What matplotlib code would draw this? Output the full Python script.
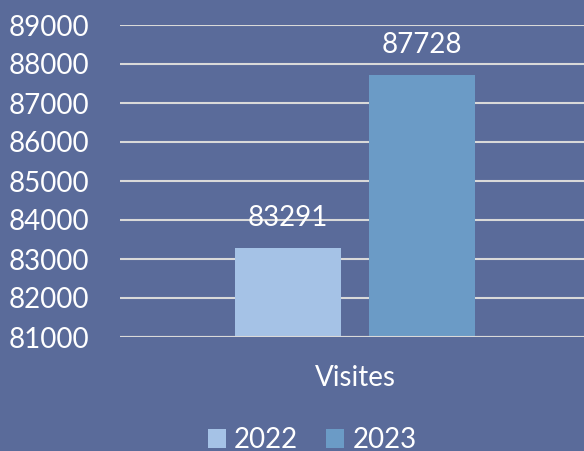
#!/usr/bin/env python3
"""Bar chart of visits, 2022 vs 2023."""

import matplotlib
matplotlib.use("Agg")
import matplotlib.pyplot as plt
from matplotlib.patches import Patch

category = "Visites"
years = ["2022", "2023"]
visits = [83291, 87728]
y_ticks = [81000, 82000, 83000, 84000, 85000, 86000, 87000, 88000, 89000]

bg = "#5A6B9A"
bar_colors = ["#A5C2E6", "#6B9BC6"]
grid_color = "#D9D9D9"

plt.rcParams["font.family"] = ["Lato", "DejaVu Sans"]

fig = plt.figure(figsize=(5.84, 4.51), dpi=100, facecolor=bg)
ax = fig.add_axes([120 / 584, 1 - 337 / 451, 470 / 584, (337 - 25) / 451])
ax.set_facecolor(bg)

width = 0.451
offset = 0.285
positions = [-offset, offset]
bars = ax.bar(positions, visits, width=width, color=bar_colors, zorder=3)
for x, v in zip(positions, visits):
    ax.annotate(f"{v}", (x, v), xytext=(0, 12), textcoords="offset points",
                ha="center", va="bottom", color="white", fontsize=20, zorder=4)

ax.set_xlim(-1, 1)
ax.set_ylim(y_ticks[0], y_ticks[-1])
ax.set_yticks(y_ticks)
ax.set_yticklabels([str(t) for t in y_ticks])
ax.tick_params(axis="y", length=0, pad=22, labelsize=20, labelcolor="white")
ax.set_xticks([])
for t in ax.get_yticklabels():
    t.set_horizontalalignment("right")
ax.grid(axis="y", color=grid_color, linewidth=1.5, zorder=0)
ax.set_axisbelow(True)
for s in ax.spines.values():
    s.set_visible(False)
ax.axhline(y_ticks[0], color=grid_color, linewidth=1.5, zorder=5)

fig.text(355 / 584, 1 - 378 / 451, category, ha="center", va="center",
         color="white", fontsize=20)

handles = [Patch(facecolor=c, label=y) for c, y in zip(bar_colors, years)]
fig.legend(handles=handles, loc="center", bbox_to_anchor=(312 / 584, 1 - 440 / 451),
           ncol=2, frameon=False, fontsize=20, labelcolor="white",
           handlelength=0.65, handleheight=0.65, handletextpad=0.3, columnspacing=1.0)

fig.savefig("out.png", dpi=100, facecolor=bg)
